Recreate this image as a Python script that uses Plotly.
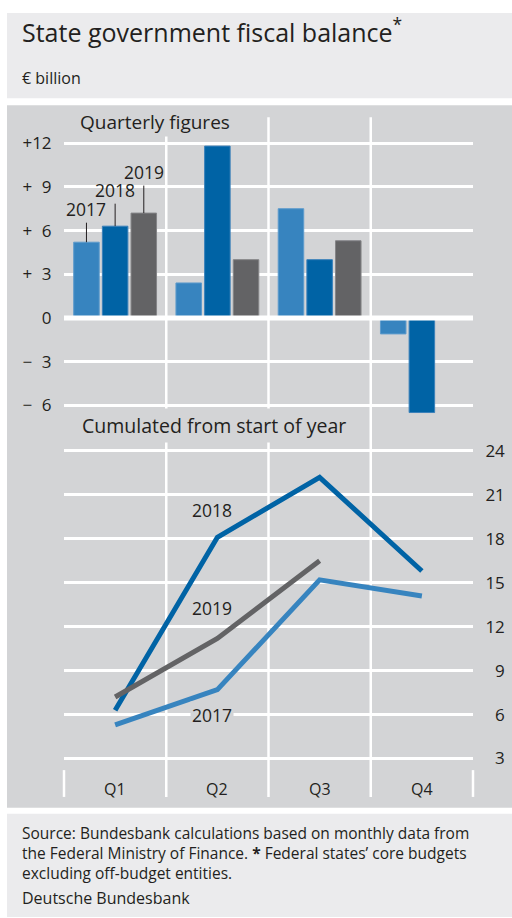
import plotly.graph_objects as go

# ---------------- data ----------------
quarters = ["Q1", "Q2", "Q3", "Q4"]
years = ["2017", "2018", "2019"]
quarterly_2017 = [5.2, 2.4, 7.5, -1.1]
quarterly_2018 = [6.3, 11.8, 4.0, -6.5]
quarterly_2019 = [7.2, 4.0, 5.3, None]
cumulated_2017 = [5.3, 7.7, 15.2, 14.1]
cumulated_2018 = [6.3, 18.1, 22.2, 15.8]
cumulated_2019 = [7.2, 11.2, 16.5, None]
top_tickvals = [-6, -3, 0, 3, 6, 9, 12]
top_ticktext = ["\u2212\u20076", "\u2212\u20073", "0", "+\u20073", "+\u20076", "+\u20079", "+12"]
bottom_tickvals = [3, 6, 9, 12, 15, 18, 21, 24]
bottom_ticktext = ["\u20073", "\u20076", "\u20079", "12", "15", "18", "21", "24"]
footer_lines = [
    "Source: Bundesbank calculations based on monthly data from",
    "the Federal Ministry of Finance. <b>*</b> Federal states\u2019 core budgets",
    "excluding off-budget entities.",
]

# ---------------- style ----------------
W, H = 512, 918
FONT = "Open Sans"
TXT = "#231f20"
PANEL = "#d3d4d6"
BOX = "#ebebed"
C17, C18, C19 = "#3784bf", "#0063a5", "#636365"
colors = [C17, C18, C19]
edge_colors = ["#5d9bcc", "#3a80ba", "#858588"]
GRIDW = 2.5


def py(px):
    return 1 - px / H


xdom = [64 / W, 473 / W]
top_dom = [py(412), py(112)]
bot_dom = [py(797), py(442)]
bargap, bargroupgap = 0.159, 0.11

fig = go.Figure()

for yr, vals, col, ec in zip(years, [quarterly_2017, quarterly_2018, quarterly_2019],
                             colors, edge_colors):
    fig.add_trace(go.Bar(x=quarters, y=vals, name=yr, marker_color=col,
                         marker_line=dict(width=1, color=ec),
                         xaxis="x", yaxis="y", showlegend=False))

for yr, vals, col in zip(years, [cumulated_2017, cumulated_2018, cumulated_2019], colors):
    fig.add_trace(go.Scatter(x=quarters, y=vals, name=yr, mode="lines",
                             line=dict(color=col, width=5), xaxis="x2", yaxis="y2",
                             showlegend=False))

shapes = [
    dict(type="rect", xref="paper", yref="paper", x0=7 / W, x1=1, y0=py(93), y1=py(7),
         fillcolor=BOX, line_width=0, layer="below"),
    dict(type="rect", xref="paper", yref="paper", x0=7 / W, x1=1, y0=py(808), y1=py(100),
         fillcolor=PANEL, line_width=0, layer="below"),
    dict(type="rect", xref="paper", yref="paper", x0=7 / W, x1=1, y0=0, y1=py(814),
         fillcolor=BOX, line_width=0, layer="below"),
]
# vertical quarter separators
for b in [0.5, 1.5, 2.5]:
    shapes.append(dict(type="line", xref="x", yref="paper", x0=b, x1=b,
                       y0=bot_dom[0], y1=top_dom[1], line=dict(color="white", width=GRIDW),
                       layer="below"))
# edge tick marks on the category axis
for xe in xdom:
    shapes.append(dict(type="line", xref="paper", yref="paper", x0=xe, x1=xe,
                       y0=bot_dom[0], y1=py(770), line=dict(color="white", width=GRIDW)))
# heavy zero line above bars
shapes.append(dict(type="line", xref="x domain", yref="y", x0=0, x1=1, y0=0, y1=0,
                   line=dict(color="white", width=5), layer="above"))

annotations = [
    dict(text="State government fiscal balance<sup>*</sup>", x=20 / W, y=py(25), xref="paper",
         yref="paper", xanchor="left", yanchor="middle", showarrow=False,
         font=dict(size=25, color=TXT, family=FONT)),
    dict(text="\u20ac billion", x=20 / W, y=py(73), xref="paper", yref="paper",
         xanchor="left", yanchor="middle", showarrow=False,
         font=dict(size=16, color=TXT, family=FONT)),
    dict(text="Quarterly figures", x=78 / W, y=py(117), xref="paper", yref="paper",
         xanchor="left", yanchor="middle", showarrow=False, bgcolor=PANEL, borderpad=1,
         font=dict(size=19, color=TXT, family=FONT)),
    dict(text="Cumulated from start of year", x=78 / W, y=py(423), xref="paper", yref="paper",
         xanchor="left", yanchor="middle", showarrow=False, bgcolor=PANEL, borderpad=3,
         font=dict(size=19.5, color=TXT, family=FONT)),
    dict(text="<br>".join(footer_lines), x=20 / W, y=py(820), xref="paper", yref="paper",
         xanchor="left", yanchor="top", align="left", showarrow=False,
         font=dict(size=15.5, color=TXT, family=FONT)),
    dict(text="Deutsche Bundesbank", x=20 / W, y=py(899), xref="paper", yref="paper",
         xanchor="left", yanchor="middle", showarrow=False,
         font=dict(size=16, color=TXT, family=FONT)),
]

# bar labels with leader lines (Q1)
catw = (xdom[1] - xdom[0]) * W / len(quarters)
slot = catw * (1 - bargap) / 3
lead = [-33, -36, -41]
for i, (yr, vals) in enumerate(zip(years, [quarterly_2017, quarterly_2018, quarterly_2019])):
    annotations.append(dict(text=yr, x=quarters[0], y=vals[0], xref="x", yref="y",
                            xshift=(i - 1) * slot, ax=0, ay=lead[i], showarrow=True,
                            arrowhead=0, arrowwidth=1, arrowcolor=TXT, standoff=0,
                            font=dict(size=17.5, color=TXT, family=FONT)))

# line labels
line_labels = [("2018", 0.95, 20.0), ("2019", 0.95, 13.25), ("2017", 0.95, 5.95)]
for t, xl, yl in line_labels:
    annotations.append(dict(text=t, x=xl, y=yl, xref="x2", yref="y2", showarrow=False,
                            bgcolor=PANEL, borderpad=1,
                            font=dict(size=17.5, color=TXT, family=FONT)))

# quarter labels on category axis
for q in quarters:
    annotations.append(dict(text=q, x=q, y=py(789), xref="x2", yref="paper",
                            showarrow=False, yanchor="middle",
                            font=dict(size=16, color=TXT, family=FONT)))

fig.update_layout(
    width=W, height=H, margin=dict(l=0, r=0, t=0, b=0),
    paper_bgcolor="white", plot_bgcolor=PANEL,
    barmode="group", bargap=bargap, bargroupgap=bargroupgap,
    font=dict(family=FONT, color=TXT),
    xaxis=dict(domain=xdom, anchor="y", type="category", categoryarray=quarters,
               range=[-0.5, 3.5], showticklabels=False, showgrid=False, zeroline=False,
               showline=False, fixedrange=True),
    yaxis=dict(domain=top_dom, anchor="x", range=[-6.66, 13.79], tickvals=top_tickvals,
               ticktext=top_ticktext, showgrid=True, gridcolor="white", gridwidth=GRIDW,
               zeroline=False, showline=False, ticks="outside", ticklen=8,
               tickcolor="rgba(0,0,0,0)", tickfont=dict(size=17, color=TXT, family=FONT)),
    xaxis2=dict(domain=xdom, anchor="y2", type="category", categoryarray=quarters,
                range=[-0.5, 3.5], showticklabels=False, showgrid=False, zeroline=False,
                showline=False),
    yaxis2=dict(domain=bot_dom, anchor="x2", side="right", range=[0.376, 24.43],
                tickvals=bottom_tickvals, ticktext=bottom_ticktext, showgrid=True,
                gridcolor="white", gridwidth=GRIDW, zeroline=False, showline=False,
                ticks="outside", ticklen=8, tickcolor="rgba(0,0,0,0)",
                tickfont=dict(size=17, color=TXT, family=FONT)),
    shapes=shapes, annotations=annotations,
)

fig.write_html("out.html", config={"displayModeBar": False},
               post_script="document.body.style.margin='0';document.body.style.overflow='hidden';")
